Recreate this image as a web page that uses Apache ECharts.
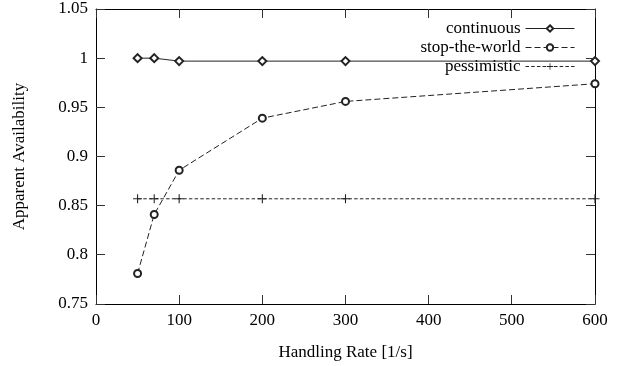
<!DOCTYPE html>
<html>
<head>
<meta charset="utf-8">
<script src="https://cdn.jsdelivr.net/npm/echarts@6/dist/echarts.min.js"></script>
<style>
html,body{margin:0;padding:0;background:#fff}
#wrap{position:relative;width:619px;height:366px;background:#fff}
#c,#lg{position:absolute;left:0;top:0;width:619px;height:366px}
</style>
</head>
<body>
<div id="wrap"><div id="c"></div><div id="lg"></div></div>
<script>
var rates = [50, 70, 100, 200, 300, 600];
var continuous = [1.0, 1.0, 0.997, 0.997, 0.997, 0.997];
var stopTheWorld = [0.781, 0.841, 0.886, 0.939, 0.956, 0.974];
var pessimistic = [0.857, 0.857, 0.857, 0.857, 0.857, 0.857];
var seriesNames = ['continuous', 'stop-the-world', 'pessimistic'];
var xTicks = [0, 100, 200, 300, 400, 500, 600];
var yTicks = [0.75, 0.8, 0.85, 0.9, 0.95, 1.0, 1.05];
var xTitle = 'Handling Rate [1/s]';
var yTitle = 'Apparent Availability';

function pairs(ys){ return rates.map(function(x,i){ return [x, ys[i]]; }); }

var FONT = 'Liberation Serif';
var FS = 17;
var LINE = '#222';
var TICK_LEN = 9;
var plusPath = 'path://M4.4,0H5.6V4.4H10V5.6H5.6V10H4.4V5.6H0V4.4H4.4Z';

var X_MIN = xTicks[0], X_MAX = xTicks[xTicks.length - 1];
var Y_MIN = yTicks[0], Y_MAX = yTicks[yTicks.length - 1];
var G = {left: 96, right: 24, top: 9, bottom: 61};

function ax(min, max, interval, extra){
  var base = {
    type: 'value', gridIndex: 0,
    min: min, max: max, interval: interval,
    axisLine: {show: true, onZero: false, lineStyle: {color: '#000', width: 1}},
    axisTick: {show: false},
    splitLine: {show: false},
    axisLabel: {show: false}
  };
  return Object.assign(base, extra);
}

function makeSeries(withData){
  return [
    {name: seriesNames[0], type: 'line', data: withData ? pairs(continuous) : [],
     symbol: 'emptyDiamond', symbolSize: 8, showAllSymbol: true,
     lineStyle: {color: LINE, width: 1, type: 'solid'},
     itemStyle: {color: LINE, borderColor: LINE, borderWidth: 1}},
    {name: seriesNames[1], type: 'line', data: withData ? pairs(stopTheWorld) : [],
     symbol: 'emptyCircle', symbolSize: 7,
     lineStyle: {color: LINE, width: 1, type: [6, 3]},
     itemStyle: {color: LINE, borderColor: LINE, borderWidth: 1}},
    {name: seriesNames[2], type: 'line', data: withData ? pairs(pessimistic) : [],
     symbol: plusPath, symbolSize: 9,
     lineStyle: {color: LINE, width: 1, type: [3.5, 2.2]},
     itemStyle: {color: LINE}}
  ];
}

function snap(v){ return Math.round(v - 0.5) + 0.5; }
var tickStyle = {stroke: '#333', lineWidth: 1};

// inward ticks on all four sides of the frame, placed through the axis scales
var xTickSeries = {
  name: 'xticks', type: 'custom', silent: true, z: 5,
  data: xTicks.map(function(v){ return [v, Y_MIN]; }),
  encode: {x: 0, y: 1},
  renderItem: function(params, api){
    var b = api.coord([api.value(0), Y_MIN]);
    var t = api.coord([api.value(0), Y_MAX]);
    var x = snap(b[0]);
    return {type: 'group', children: [
      {type: 'line', shape: {x1: x, y1: b[1], x2: x, y2: b[1] - TICK_LEN}, style: tickStyle},
      {type: 'line', shape: {x1: x, y1: t[1], x2: x, y2: t[1] + TICK_LEN}, style: tickStyle}
    ]};
  }
};
var yTickSeries = {
  name: 'yticks', type: 'custom', silent: true, z: 5,
  data: yTicks.map(function(v){ return [X_MIN, v]; }),
  encode: {x: 0, y: 1},
  renderItem: function(params, api){
    var l = api.coord([X_MIN, api.value(1)]);
    var r = api.coord([X_MAX, api.value(1)]);
    var y = snap(l[1]);
    return {type: 'group', children: [
      {type: 'line', shape: {x1: l[0], y1: y, x2: l[0] + TICK_LEN, y2: y}, style: tickStyle},
      {type: 'line', shape: {x1: r[0], y1: y, x2: r[0] - TICK_LEN, y2: y}, style: tickStyle}
    ]};
  }
};

var chart = echarts.init(document.getElementById('c'), null, {renderer: 'canvas'});
chart.setOption({
  animation: false,
  grid: G,
  xAxis: [
    ax(X_MIN, X_MAX, 100, {position: 'bottom',
        name: xTitle, nameLocation: 'middle', nameGap: 40,
        nameTextStyle: {fontFamily: FONT, fontSize: FS, color: '#000'},
        axisLabel: {show: true, color: '#000', fontFamily: FONT, fontSize: FS, margin: 8}}),
    ax(X_MIN, X_MAX, 100, {position: 'top'})
  ],
  yAxis: [
    ax(Y_MIN, Y_MAX, 0.05, {position: 'left',
        name: yTitle, nameLocation: 'middle', nameGap: 68,
        nameTextStyle: {fontFamily: FONT, fontSize: FS, color: '#000'},
        axisLabel: {show: true, color: '#000', fontFamily: FONT, fontSize: FS, margin: 8,
          formatter: function(v){ return String(parseFloat(v.toFixed(2))); }}}),
    ax(Y_MIN, Y_MAX, 0.05, {position: 'right'})
  ],
  series: makeSeries(true).concat([xTickSeries, yTickSeries])
});

// legend drawn by a transparent overlay instance (same series styles, no marks)
var lg = echarts.init(document.getElementById('lg'), null, {renderer: 'canvas'});
lg.setOption({
  animation: false,
  backgroundColor: 'transparent',
  grid: {left: G.left, right: G.right, top: G.top, bottom: G.bottom, show: false},
  xAxis: {type: 'value', show: false, min: X_MIN, max: X_MAX},
  yAxis: {type: 'value', show: false, min: Y_MIN, max: Y_MAX},
  legend: {
    data: seriesNames,
    orient: 'vertical',
    align: 'right',
    right: 44,
    top: 19,
    padding: 0,
    itemWidth: 49,
    itemHeight: 8,
    itemGap: 0,
    selectedMode: false,
    textStyle: {fontFamily: FONT, fontSize: FS, color: '#000', lineHeight: 19},
    lineStyle: {width: 1},
    itemStyle: {borderWidth: 1}
  },
  series: makeSeries(false)
});
</script>
</body>
</html>
